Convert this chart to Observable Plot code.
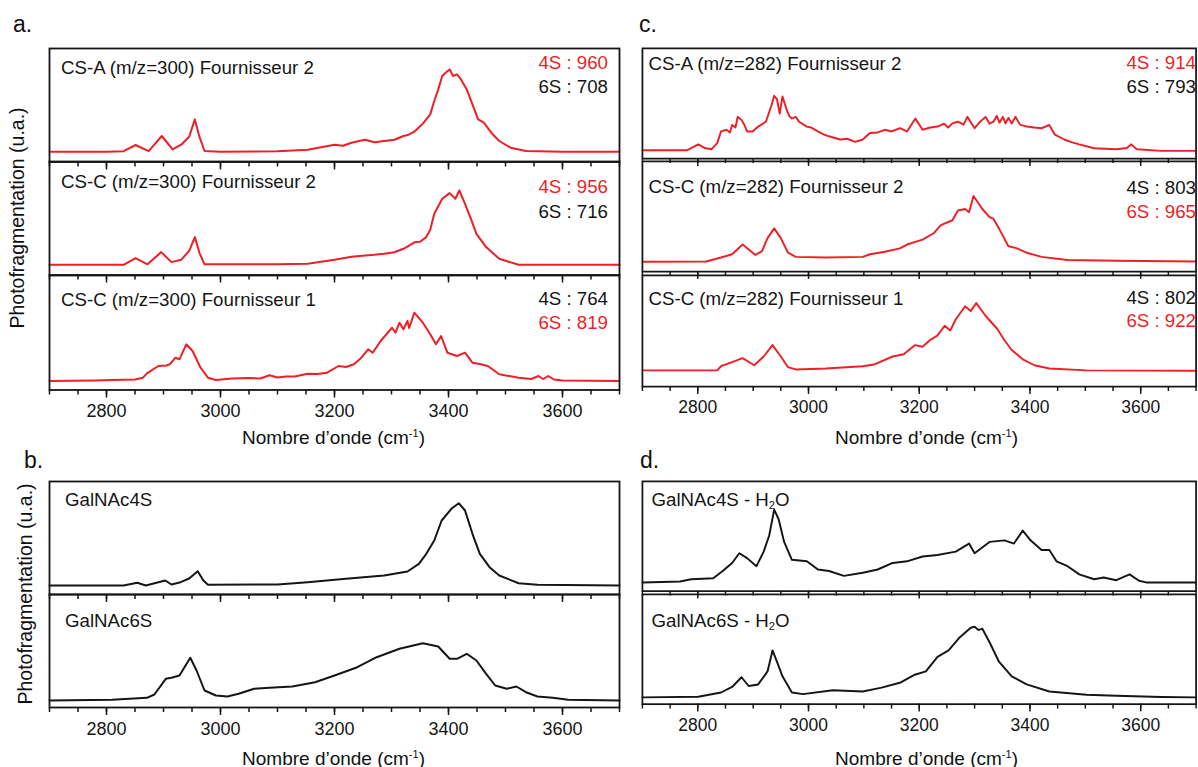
<!DOCTYPE html>
<html>
<head>
<meta charset="utf-8">
<script src="https://cdn.jsdelivr.net/npm/d3@7"></script>
<script src="https://cdn.jsdelivr.net/npm/@observablehq/plot@0.6"></script>
<style>
  html, body { margin: 0; padding: 0; overflow: hidden; background: #fff; }
  #fig { position: relative; width: 1198px; height: 767px; overflow: hidden; background: #fff;
         font-family: "Liberation Sans", Arial, Helvetica, sans-serif; color: #111; }
  .lab { position: absolute; white-space: nowrap; line-height: 1; font-size: 18.7px; }
  .plot-wrap { position: absolute; }
  sup.s { font-size: 11px; vertical-align: 0.55em; line-height: 0; }
  sub.s { font-size: 11px; vertical-align: -0.35em; line-height: 0; }
</style>
</head>
<body>
<div id="fig"></div>
<script>
// ---------------- data (wavenumber cm-1, photofragmentation a.u.) ----------------
const wnDomain = [2700, 3700];
const majorTicks = [2800, 3000, 3200, 3400, 3600];

const csA300F2 = [[2700,0],[2800,0],[2830,0.5],[2851,6.7],[2874,0.5],[2897,15.7],[2916,2.3],[2931,7],[2945,15],[2955,32.3],[2963,15],[2972,0.7],[3000,0],[3100,0.5],[3153,2],[3200,7],[3215,6],[3230,9],[3245,11],[3254,12],[3270,9.5],[3287,10.7],[3305,12],[3321,15.7],[3330,17],[3340,20],[3355,28],[3368,37.3],[3375,50.7],[3382,62.3],[3389,75.7],[3395,79],[3402,82.3],[3408,75.7],[3415,77.3],[3422,72.3],[3432,62.3],[3442,47.3],[3452,32.3],[3462,29],[3475,19],[3489,10.7],[3509,4],[3536,0.7],[3600,0],[3700,0]];
const csC300F2 = [[2700,0],[2830,0],[2851,6.7],[2872,0.5],[2896,12.7],[2914,2.7],[2931,5],[2945,14],[2955,27.7],[2963,12],[2972,0.5],[3100,0.5],[3153,1],[3200,5],[3230,8],[3254,9.3],[3270,10],[3287,11],[3305,12.5],[3321,16],[3341,22.7],[3350,23],[3361,27.7],[3368,35],[3375,51],[3389,66],[3402,71.7],[3412,66],[3419,74.3],[3429,61],[3440,45],[3449,31],[3466,17.7],[3489,6],[3523,0],[3700,0]];
const csC300F1 = [[2700,0],[2780,0.5],[2810,1],[2850,1.5],[2864,3.3],[2871,7.7],[2891,15],[2905,15.5],[2911,16.7],[2921,23.3],[2928,21.7],[2940,36.7],[2951,30],[2965,13.3],[2978,3.3],[2992,1],[3020,2.5],[3050,3],[3070,2.5],[3086,5.7],[3100,3.5],[3115,4.5],[3130,4.5],[3153,7.3],[3170,7],[3187,8.3],[3207,15],[3220,14],[3234,16.7],[3247,23.3],[3259,31.7],[3267,28.3],[3281,40],[3301,53.3],[3307,48.3],[3314,58.3],[3321,51.7],[3328,60],[3331,53],[3340,68.3],[3355,58.3],[3368,46.7],[3378,36.7],[3387,45],[3398,28.3],[3415,25],[3429,28.3],[3442,18.3],[3455,17],[3469,15],[3489,6.7],[3523,3.3],[3545,2],[3558,5],[3566,2],[3575,5],[3585,1.5],[3600,0.5],[3700,0]];

const csA282F2 = [[2700,0.7],[2781,0.7],[2801,6.7],[2812,3],[2825,1.7],[2835,8],[2842,20],[2852,21.7],[2858,19],[2862,26.7],[2868,24],[2872,35],[2879,31.7],[2884,27],[2889,20],[2899,20],[2909,25],[2923,30],[2933,46.7],[2938,56.7],[2943,53.3],[2948,38.3],[2953,56],[2960,43.3],[2965,36],[2970,33.3],[2977,35],[2983,30],[2997,25],[3005,24],[3017,20],[3027,17],[3037,15],[3057,11.7],[3070,12.5],[3084,9.3],[3098,11.7],[3111,18.3],[3125,19],[3138,21.7],[3150,20],[3165,23.3],[3178,20],[3193,33.3],[3206,21.7],[3220,24],[3233,25],[3245,28],[3252,24],[3260,28.3],[3270,30],[3280,27],[3287,35],[3300,23.3],[3310,30],[3320,35],[3327,28],[3334,30],[3340,36],[3345,29],[3351,35],[3356,28.3],[3361,34],[3367,28.3],[3374,35],[3382,27],[3394,25],[3408,24],[3421,23.3],[3435,26.7],[3445,16.7],[3462,11.7],[3475,9],[3489,6.7],[3516,2.7],[3556,1.7],[3575,3],[3583,6.7],[3593,1.7],[3637,0],[3700,0]];
const csC282F2 = [[2700,0],[2815,0.3],[2842,4.3],[2862,7.7],[2881,17.7],[2892,12.7],[2904,7],[2916,11],[2926,24.3],[2938,34.3],[2950,24.3],[2963,9.3],[2977,5],[3031,4.3],[3098,5],[3111,7.7],[3138,10.3],[3165,13.7],[3178,17.7],[3206,22.7],[3226,29.3],[3239,37.7],[3260,42.7],[3270,52.7],[3283,54.3],[3290,51],[3298,67.7],[3314,54.3],[3327,46],[3334,44.3],[3344,34.3],[3361,16],[3374,14.3],[3394,9.3],[3421,5],[3468,1.7],[3556,1],[3700,0.3]];
const csC282F1 = [[2700,0.7],[2835,0.7],[2842,5],[2862,9.3],[2881,13.3],[2902,6],[2919,15],[2935,26.7],[2950,15],[2963,4],[2977,1.7],[3031,2.7],[3098,5],[3118,6.7],[3152,15],[3172,17.3],[3192,26.7],[3206,25],[3219,31.7],[3233,36.7],[3246,46.7],[3256,41.7],[3266,53.3],[3283,66.7],[3293,61.7],[3303,70],[3320,56.7],[3341,43.3],[3354,31.7],[3367,21.7],[3388,11.7],[3408,6],[3435,2.7],[3502,0.7],[3700,0.3]];

const galNAc4S = [[2700,0],[2830,0],[2854,2.7],[2869,0],[2903,5],[2914,1],[2930,3.3],[2945,7],[2960,14.3],[2970,5],[2978,0.7],[3100,1],[3153,3.3],[3220,6.7],[3287,10],[3328,14],[3348,21.7],[3361,31.7],[3375,45],[3388,65],[3405,76.7],[3418,82.3],[3429,75],[3442,51.7],[3455,31.7],[3472,18.3],[3489,10],[3523,2.3],[3556,0.7],[3700,0]];
const galNAc6S = [[2700,0],[2810,0.7],[2871,2.7],[2884,6],[2904,21.7],[2914,22.7],[2928,25],[2947,42.7],[2958,30],[2972,10],[2992,5],[3012,4],[3032,6.7],[3059,11.7],[3086,12.7],[3126,14],[3166,18.3],[3200,25],[3240,33.3],[3274,43.3],[3314,51.7],[3355,57.3],[3382,54],[3402,41.7],[3415,41.7],[3432,46.7],[3449,40],[3466,26.7],[3482,15],[3502,11.7],[3519,14],[3536,8.3],[3556,4],[3583,2.7],[3610,0.7],[3700,0]];
const galNAc4SH2O = [[2700,0],[2768,1],[2788,3.3],[2828,4.3],[2845,11.7],[2862,20],[2875,30],[2889,25],[2906,16.7],[2919,31.7],[2929,48.3],[2938,75],[2946,65],[2956,41.7],[2970,23.3],[2997,21.7],[3017,13.3],[3037,11.7],[3064,6.7],[3098,10],[3125,13.3],[3152,20],[3178,21.7],[3206,26.7],[3233,28.3],[3266,31.7],[3290,40],[3300,30],[3327,41.7],[3354,43.3],[3371,40],[3387,53.3],[3401,43.3],[3421,33.3],[3435,33.3],[3448,21.7],[3468,16.7],[3489,8.3],[3516,3.3],[3533,5],[3556,2.3],[3580,8.3],[3597,1.7],[3610,0],[3700,0]];
const galNAc6SH2O = [[2700,0],[2801,0.7],[2842,5],[2862,10.7],[2879,20.7],[2892,11.7],[2909,13.3],[2926,26.7],[2935,48.3],[2943,36.7],[2953,21.7],[2970,5],[2990,3.3],[3044,7.3],[3098,6],[3132,10],[3165,15],[3192,23.3],[3212,26.7],[3233,41.7],[3253,48.3],[3273,61.7],[3293,71.7],[3300,72.7],[3307,69.3],[3314,70.7],[3327,56.7],[3344,36.7],[3367,21.7],[3394,13.3],[3435,6],[3502,2.7],[3556,1.7],[3637,0.3],[3700,0]];

// text
const panelLetters = ["a.", "b.", "c.", "d."];
const subLabels = ["CS-A (m/z=300) Fournisseur 2", "CS-C (m/z=300) Fournisseur 2", "CS-C (m/z=300) Fournisseur 1",
                   "CS-A (m/z=282) Fournisseur 2", "CS-C (m/z=282) Fournisseur 2", "CS-C (m/z=282) Fournisseur 1",
                   "GalNAc4S", "GalNAc6S", "GalNAc4S - H<sub class='s'>2</sub>O", "GalNAc6S - H<sub class='s'>2</sub>O"];
const ratio4S = ["4S : 960", "4S : 956", "4S : 764", "4S : 914", "4S : 803", "4S : 802"];
const ratio6S = ["6S : 708", "6S : 716", "6S : 819", "6S : 793", "6S : 965", "6S : 922"];
const xTitle = "Nombre d’onde (cm<sup class='s'>-1</sup>)";
const yTitle = "Photofragmentation (u.a.)";

// ---------------- layout ----------------
const RED = "#ee1f26", BLACK = "#151515";
const FONT = "'Liberation Sans', Arial, Helvetica, sans-serif";
const cols = [{left: 48.5, width: 570, rlab: 608}, {left: 641.5, width: 570, rlab: 1196}];
const topRows = [47.5, 161, 274.5, 389];
const botRows = [481, 594, 707];

const subs = [
  {col:0, top:topRows[0], bot:topRows[1], base:10.3, data:csA300F2, color:RED, last:false, lab:0, ldy:20, rdy:[15,39], red4:true, lx:12.5},
  {col:0, top:topRows[1], bot:topRows[2], base:10.2, data:csC300F2, color:RED, last:false, lab:1, ldy:21, rdy:[26,50.5], red4:true, lx:12.5},
  {col:0, top:topRows[2], bot:topRows[3], base:9, data:csC300F1, color:RED, last:true, lab:2, ldy:25, rdy:[24,48], red4:false, lx:12.5},
  {col:1, top:topRows[0], bot:topRows[1], base:8, data:csA282F2, color:RED, last:false, lab:3, ldy:16, rdy:[15,39.5], red4:true, lx:7},
  {col:1, top:topRows[1], bot:topRows[2], base:10.2, data:csC282F2, color:RED, last:false, lab:4, ldy:26, rdy:[27,51], red4:false, lx:7},
  {col:1, top:topRows[2], bot:topRows[3], base:16, data:csC282F1, color:RED, last:true, lab:5, ldy:24, rdy:[23,46], red4:false, lx:7},
  {col:0, top:botRows[0], bot:botRows[1], base:9, data:galNAc4S, color:BLACK, last:false, lab:6, ldy:19, lx:16.5},
  {col:0, top:botRows[1], bot:botRows[2], base:7, data:galNAc6S, color:BLACK, last:true, lab:7, ldy:27, lx:16.5},
  {col:1, top:botRows[0], bot:botRows[1], base:9, data:galNAc4SH2O, color:BLACK, last:false, lab:8, ldy:19, lx:10},
  {col:1, top:botRows[1], bot:botRows[2], base:7, data:galNAc6SH2O, color:BLACK, last:true, lab:9, ldy:27, lx:10},
];

const fig = document.getElementById("fig");
function addLabel(html, x, y, opts = {}) {
  const d = document.createElement("div");
  d.className = "lab";
  d.innerHTML = html;
  d.style.left = x + "px";
  d.style.top = y + "px";
  if (opts.size) d.style.fontSize = opts.size + "px";
  if (opts.color) d.style.color = opts.color;
  d.style.transform = opts.transform || "translate(0,-50%)";
  fig.appendChild(d);
  return d;
}

const M = 3, MB = 48;
for (const s of subs) {
  const c = cols[s.col];
  const H = s.bot - s.top;
  const mb = s.last ? MB : M;
  const svg = Plot.plot({
    width: c.width + 2 * M,
    height: H + M + mb,
    marginLeft: M, marginRight: M, marginTop: M, marginBottom: mb,
    x: {domain: wnDomain, axis: null},
    y: {domain: [-s.base, H - s.base], axis: null},
    style: {background: "transparent", overflow: "visible", fontFamily: FONT, fontSize: "18px", color: BLACK},
    marks: [
      Plot.line(s.data, {x: d => d[0], y: d => d[1], stroke: s.color, strokeWidth: 2, strokeLinejoin: "round"}),
      Plot.axisX({anchor: "bottom", ticks: d3.range(wnDomain[0], wnDomain[1] + 1, 50), tickSize: 5,
                  tickFormat: () => "", strokeWidth: 1.5, stroke: BLACK, label: null}),
      Plot.axisX({anchor: "bottom", ticks: majorTicks, tickSize: 8, tickPadding: 6.5,
                  tickFormat: s.last ? d3.format("d") : () => "", strokeWidth: 1.5, stroke: BLACK,
                  fill: BLACK, fontSize: 18, label: null}),
      Plot.frame({stroke: BLACK, strokeWidth: 1.8})
    ]
  });
  const w = document.createElement("div");
  w.className = "plot-wrap";
  w.style.left = (c.left - M) + "px";
  w.style.top = (s.top - M) + "px";
  w.appendChild(svg);
  fig.appendChild(w);

  addLabel(subLabels[s.lab], c.left + s.lx, s.top + s.ldy, {color: BLACK});
  if (s.rdy) {
    const i = s.lab;
    addLabel(ratio4S[i], c.rlab, s.top + s.rdy[0], {color: s.red4 ? RED : BLACK, transform: "translate(-100%,-50%)"});
    addLabel(ratio6S[i], c.rlab, s.top + s.rdy[1], {color: s.red4 ? BLACK : RED, transform: "translate(-100%,-50%)"});
  }
}

addLabel(panelLetters[0], 13, 24, {size: 23});
addLabel(panelLetters[1], 24, 460, {size: 23});
addLabel(panelLetters[2], 639, 24, {size: 23});
addLabel(panelLetters[3], 640, 460, {size: 23});

for (const c of cols) {
  addLabel(xTitle, c.left + c.width / 2, 437, {size: 19, transform: "translate(-50%,-50%)"});
  addLabel(xTitle, c.left + c.width / 2, 758, {size: 19, transform: "translate(-50%,-50%)"});
}
addLabel(yTitle, 18, 218, {size: 19.5, transform: "translate(-50%,-50%) rotate(-90deg)"});
addLabel(yTitle, 26, 594, {size: 19.5, transform: "translate(-50%,-50%) rotate(-90deg)"});
</script>
</body>
</html>
